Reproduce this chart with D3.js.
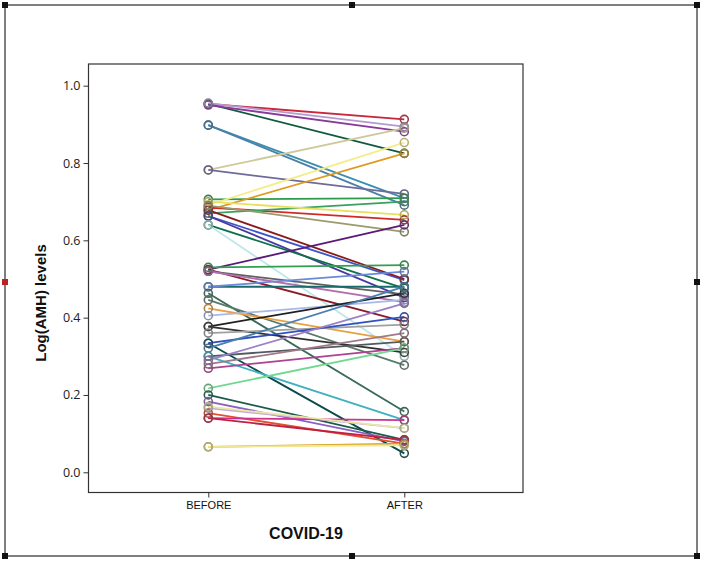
<!DOCTYPE html>
<html><head><meta charset="utf-8">
<script src="https://cdn.jsdelivr.net/npm/d3@7"></script>
<style>body{margin:0;background:#fff}svg{display:block}</style>
</head><body>
<script>
// ---- data ----
const categories = ["BEFORE", "AFTER"];
const yTicks = [0.0, 0.2, 0.4, 0.6, 0.8, 1.0];
const beforeValues = [0.953,0.953,0.950,0.955,0.898,0.898,0.782,0.782,0.706,0.691,0.678,0.685,0.670,0.663,0.663,0.678,0.640,0.640,0.700,0.690,0.524,0.530,0.524,0.520,0.520,0.480,0.480,0.463,0.446,0.424,0.405,0.377,0.377,0.360,0.334,0.334,0.321,0.300,0.300,0.269,0.280,0.217,0.200,0.183,0.166,0.153,0.140,0.140,0.066,0.066,0.170,0.290];
const afterValues  = [0.913,0.825,0.881,0.894,0.709,0.691,0.890,0.720,0.709,0.853,0.825,0.653,0.700,0.497,0.452,0.500,0.476,0.300,0.666,0.622,0.640,0.536,0.390,0.460,0.440,0.480,0.519,0.157,0.277,0.338,0.446,0.463,0.310,0.382,0.402,0.049,0.480,0.338,0.135,0.321,0.360,0.321,0.084,0.080,0.114,0.074,0.135,0.084,0.074,0.070,0.114,0.437];
const palette = ["#c8283c","#0f5a3c","#8a3a9a","#b59ad0","#3a8fb0","#4a7fa8","#cfc89a","#6e6a9a","#2e9a4a","#f5ec8a","#e09a20","#d02a2a","#3aa060","#3a55c8","#4a3aa0","#8a1a1a","#10704a","#bde6ea","#e8e060","#9a9a6a","#5a1a7a","#30a050","#8a1a2a","#606060","#b070b0","#1a6a6a","#6a8ad8","#3a6a5a","#5a7a6a","#e8a040","#a8b8e8","#202020","#303030","#a0a0a0","#3050c0","#0a4a4a","#4a80b0","#505a60","#40b0c0","#b04090","#a07a8a","#70d890","#1a5a4a","#8a60c0","#c8a8e0","#e05030","#d03090","#c02040","#d8a020","#f0e890","#e8e8a0","#9a80c8"];
const subjects = d3.range(beforeValues.length);

// ---- layout ----
const W = 703, H = 566;
const svg = d3.select("body").append("svg").attr("width", W).attr("height", H);

// outer selection frame
const fr = {x0:5, y0:5, x1:697, y1:556};
svg.append("rect").attr("x",fr.x0).attr("y",fr.y0).attr("width",fr.x1-fr.x0).attr("height",fr.y1-fr.y0)
  .attr("fill","none").attr("stroke","#555").attr("stroke-width",1.5);
const handles = [[fr.x0,fr.y0],[352,fr.y0],[fr.x1,fr.y0],[fr.x1,282],[fr.x1,fr.y1],[352,fr.y1],[fr.x0,fr.y1]];
svg.selectAll("rect.h").data(handles).join("rect").attr("class","h")
  .attr("x",d=>d[0]-3).attr("y",d=>d[1]-3).attr("width",6).attr("height",6).attr("fill","#111");
svg.append("rect").attr("x",fr.x0-3).attr("y",279).attr("width",6).attr("height",6).attr("fill","#b22");

// plot box
const box = {x0:88.5, y0:64, x1:523, y1:492.5};
const y = d3.scaleLinear().domain([0,1]).range([472.3,85.7]);
const x = d3.scalePoint().domain(categories).range([208.3,404.3]);

const g = svg.append("g");
// lines
g.selectAll("line.s").data(subjects).join("line").attr("class","s")
  .attr("x1",x("BEFORE")).attr("x2",x("AFTER"))
  .attr("y1",i=>y(beforeValues[i])).attr("y2",i=>y(afterValues[i]))
  .attr("stroke",i=>palette[i%palette.length]).attr("stroke-width",1.8).attr("fill","none");
// markers
const pts = [];
subjects.forEach(i=>{pts.push({c:"BEFORE",v:beforeValues[i],i});pts.push({c:"AFTER",v:afterValues[i],i});});
g.selectAll("circle").data(pts).join("circle")
  .attr("cx",d=>x(d.c)).attr("cy",d=>y(d.v)).attr("r",4)
  .attr("fill","none").attr("stroke",d=>d3.interpolateRgb(palette[d.i%palette.length],"#555")(0.4))
  .attr("stroke-width",1.6);

svg.append("rect").attr("x",box.x0).attr("y",box.y0).attr("width",box.x1-box.x0).attr("height",box.y1-box.y0)
  .attr("fill","none").attr("stroke","#333").attr("stroke-width",1.2);

// y axis
const yAxis = d3.axisLeft(y).tickValues(yTicks).tickFormat(d3.format(".1f")).tickSize(5).tickPadding(3);
const ya = svg.append("g").attr("transform",`translate(${box.x0},0)`).call(yAxis);
ya.select(".domain").remove();
ya.selectAll("line").attr("stroke","#333");
ya.selectAll("text").attr("font-family","'Open Sans', sans-serif").attr("font-size",12.5).attr("fill","#222");

// x axis
const xAxis = d3.axisBottom(x).tickSize(5).tickPadding(4);
const xa = svg.append("g").attr("transform",`translate(0,${box.y1})`).call(xAxis);
xa.select(".domain").remove();
xa.selectAll("line").attr("stroke","#333");
xa.selectAll("text").attr("font-family","'Liberation Sans', Arial, sans-serif").attr("font-size",11).attr("fill","#111");

svg.append("text").attr("x",306).attr("y",539).attr("text-anchor","middle")
  .attr("font-family","'Liberation Sans', Arial, sans-serif").attr("font-weight","bold").attr("font-size",16).attr("fill","#111")
  .text("COVID-19");
svg.append("text").attr("transform","translate(46,303) rotate(-90)").attr("text-anchor","middle")
  .attr("font-family","'Liberation Sans', Arial, sans-serif").attr("font-weight","bold").attr("font-size",15).attr("fill","#111")
  .text("Log(AMH) levels");
</script>
</body></html>
